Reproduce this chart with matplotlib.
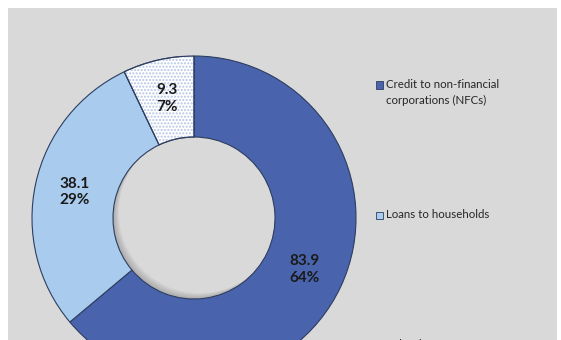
import matplotlib
matplotlib.use("Agg")
import matplotlib.pyplot as plt
from matplotlib.patches import Rectangle, Wedge, Circle
import numpy as np

# credit breakdown (EUR bn)
categories = ["Credit to non-financial\ncorporations (NFCs)", "Loans to households", "Other loans"]
values = [83.9, 38.1, 9.3]
colors = ["#4964ad", "#a9cbee", "#ffffff"]

plt.rcParams["font.family"] = ["Lato", "DejaVu Sans"]
plt.rcParams["hatch.linewidth"] = 1.0

W, H = 561, 340
fig = plt.figure(figsize=(W / 100, H / 100), dpi=100)
fig.patch.set_facecolor("white")

# grey panel
fig.patches.append(Rectangle((8 / W, 0.5 / H), (557 - 8) / W, (340 - 8.5) / H,
                             transform=fig.transFigure, facecolor="#d9d9d9",
                             edgecolor="none", zorder=-10))

# donut axes: centre (194, 218) px from top-left, outer radius 162 px
cx, cy, R = 194, 218, 162
ax = fig.add_axes([(cx - R) / W, (H - cy - R) / H, 2 * R / W, 2 * R / H])
ax.axis("off")
ax.patch.set_alpha(0)

ring = 0.5
wedges, _ = ax.pie(values, colors=colors, startangle=90, counterclock=False,
                   radius=1.0,
                   wedgeprops=dict(width=ring, edgecolor="#2e3d5f", linewidth=0.8))
ax.set_xlim(-1, 1)
ax.set_ylim(-1, 1)
ax.set_aspect("equal")

# dotted fill for the small slice
w3 = wedges[2]
dots = Wedge(w3.center, w3.r, w3.theta1, w3.theta2, width=w3.width,
             facecolor="none", edgecolor="#b3c5e5", hatch=".....", linewidth=0,
             zorder=1.5)
ax.add_patch(dots)
w3.set_zorder(1)
ax.add_patch(Wedge(w3.center, w3.r, w3.theta1, w3.theta2, width=w3.width,
                   facecolor="none", edgecolor="#2e3d5f", linewidth=0.8, zorder=2))

# soft inner shadow in the hole (lower-left side)
hole = Circle((0, 0), 1 - ring, transform=ax.transData)
for k in range(1, 7):
    sh = Wedge((0.006 * k, 0.006 * k), 0.75, 0, 360, width=0.25,
               facecolor="#000000", edgecolor="none", alpha=0.035, zorder=0.5)
    ax.add_patch(sh)
    sh.set_clip_path(hole)

total = sum(values)
for w, v in zip(wedges, values):
    mid = np.deg2rad((w.theta1 + w.theta2) / 2)
    r = 0.755
    ax.text(r * np.cos(mid), r * np.sin(mid), f"{v:.1f}\n{v / total * 100:.0f}%",
            ha="center", va="center", fontsize=11, fontweight="bold",
            color="#1a1a1a", linespacing=1.25, zorder=5)

# legend entries
leg_y = [85, 215, 345]
for lab, col, y in zip(categories, colors, leg_y):
    fig.patches.append(Rectangle((376 / W, (H - y - 3.5) / H), 7 / W, 7 / H,
                                 transform=fig.transFigure, facecolor=col,
                                 edgecolor="#2e3d5f", linewidth=0.6))
    for i, line in enumerate(lab.split("\n")):
        fig.text(386 / W, (H - y - 15 * i) / H, line, ha="left", va="center",
                 fontsize=8.3, color="#262626")

fig.savefig("out.png", dpi=100, facecolor=fig.get_facecolor())
